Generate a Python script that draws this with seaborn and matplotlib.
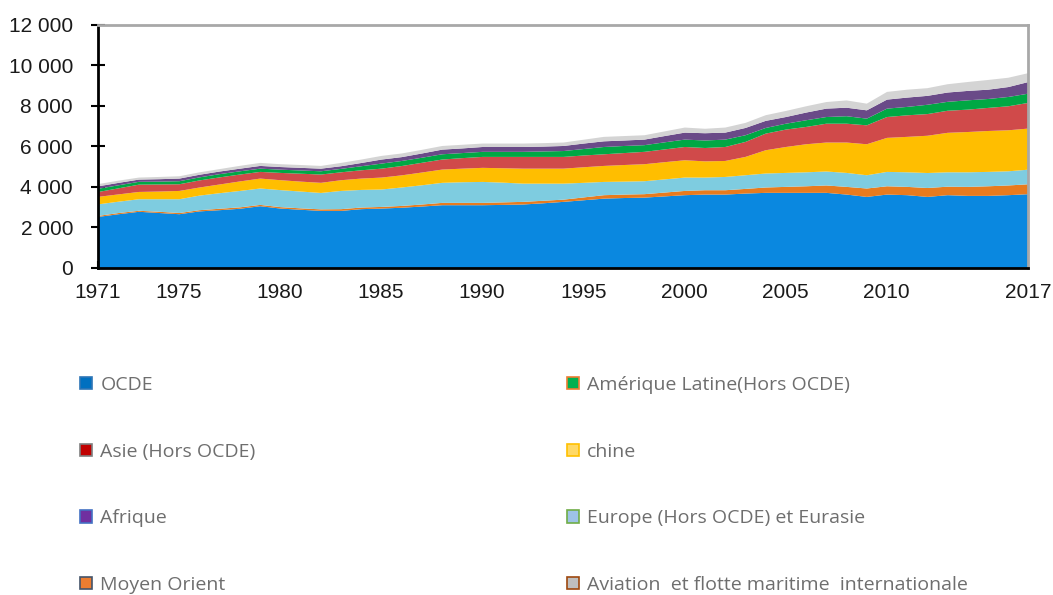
import numpy as np
import pandas as pd
import seaborn as sns
import matplotlib.pyplot as plt
from matplotlib.patches import Patch
from matplotlib.ticker import FuncFormatter, MultipleLocator

years = list(range(1971, 2018))

ocde = [2550, 2680, 2800, 2740, 2680, 2820, 2880, 2950, 3075, 2960,
        2900, 2845, 2845, 2930, 2960, 3000, 3060, 3125, 3125, 3125,
        3140, 3160, 3220, 3290, 3370, 3450, 3480, 3500, 3560, 3620,
        3650, 3650, 3700, 3735, 3735, 3735, 3735, 3650, 3535, 3650,
        3620, 3535, 3620, 3585, 3585, 3620, 3670]
moyen_orient = [50, 60, 50, 60, 60, 60, 70, 70, 65, 70,
                70, 75, 85, 80, 80, 90, 100, 115, 115, 115,
                125, 130, 125, 110, 140, 170, 170, 170, 190, 210,
                215, 215, 230, 265, 295, 325, 365, 380, 415, 410,
                410, 440, 420, 445, 475, 480, 490]
europe_eurasie = [570, 560, 570, 620, 680, 720, 770, 810, 810, 840,
                  830, 810, 900, 870, 860, 910, 950, 990, 1020, 1035,
                  975, 900, 845, 790, 720, 655, 640, 640, 650, 660,
                  625, 655, 675, 690, 690, 690, 690, 690, 655, 710,
                  720, 740, 710, 720, 710, 700, 720]
chine = [370, 360, 360, 380, 410, 400, 430, 470, 490, 490,
         490, 500, 530, 560, 590, 600, 630, 655, 670, 695,
         710, 740, 740, 740, 770, 790, 820, 840, 850, 855,
         800, 790, 905, 1150, 1280, 1385, 1430, 1500, 1530, 1680,
         1750, 1840, 1950, 1990, 2020, 2025, 2030]
asie = [240, 300, 360, 350, 330, 350, 350, 340, 330, 360,
        390, 410, 390, 410, 440, 460, 480, 495, 520, 540,
        560, 580, 580, 580, 580, 575, 590, 610, 630, 655,
        660, 690, 740, 820, 860, 855, 930, 930, 935, 1030,
        1065, 1070, 1090, 1105, 1140, 1185, 1270]
amerique_latine = [160, 150, 140, 140, 150, 150, 160, 160, 160, 160,
                   160, 160, 170, 200, 250, 250, 250, 260, 250, 250,
                   250, 250, 270, 290, 320, 360, 350, 330, 350, 365,
                   370, 365, 330, 280, 290, 330, 330, 370, 330, 415,
                   415, 460, 440, 460, 440, 460, 455]
afrique = [120, 120, 110, 120, 130, 130, 130, 130, 135, 130,
           130, 130, 130, 160, 200, 190, 210, 230, 230, 240,
           240, 240, 240, 250, 270, 280, 270, 275, 310, 345,
           360, 345, 360, 350, 330, 380, 415, 420, 410, 445,
           460, 440, 460, 465, 460, 490, 575]
aviation = [110, 110, 100, 110, 115, 120, 120, 140, 150, 140,
            140, 135, 165, 170, 180, 180, 180, 180, 180, 170,
            170, 170, 170, 170, 190, 220, 220, 215, 230, 250,
            220, 250, 250, 280, 300, 310, 325, 360, 330, 380,
            390, 380, 410, 440, 480, 460, 440]

df = pd.DataFrame({
    "OCDE": ocde,
    "Moyen Orient": moyen_orient,
    "Europe (Hors OCDE) et Eurasie": europe_eurasie,
    "chine": chine,
    "Asie (Hors OCDE)": asie,
    "Amérique Latine(Hors OCDE)": amerique_latine,
    "Afrique": afrique,
    "Aviation  et flotte maritime  internationale": aviation,
}, index=years)

area_colors = ["#0A88E0", "#E87B1E", "#7ECCE0", "#FFBE00",
               "#D04A4A", "#00A844", "#6A4A88", "#D4D4D4"]

sns.set_theme(style="white")
plt.rcParams["font.family"] = ["Liberation Sans", "DejaVu Sans"]

fig = plt.figure(figsize=(10.53, 5.95), dpi=100)
ax = fig.add_axes([0.0931, 0.5496, 0.8832, 0.4084])

ax.stackplot(df.index, [df[c].values for c in df.columns],
             colors=area_colors, linewidth=0)

ax.set_xlim(1971, 2017)
ax.set_ylim(0, 12000)

# ticks
ax.xaxis.set_major_locator(MultipleLocator(1))
shown = {1971, 1975, 1980, 1985, 1990, 1995, 2000, 2005, 2010, 2017}
ax.xaxis.set_major_formatter(FuncFormatter(
    lambda v, p: str(int(round(v))) if int(round(v)) in shown else ""))
ax.yaxis.set_major_locator(MultipleLocator(2000))
ax.yaxis.set_major_formatter(FuncFormatter(
    lambda v, p: f"{int(v):,}".replace(",", " ")))

ax.tick_params(axis="x", direction="in", length=5, width=1.5, color="black",
               labelsize=15, labelcolor="#1a1a1a", pad=11, bottom=True)
ax.tick_params(axis="y", direction="inout", length=10, width=1.5, color="black",
               labelsize=15, labelcolor="#1a1a1a", pad=13, left=True)

for s in ["left", "bottom"]:
    ax.spines[s].set_color("black")
    ax.spines[s].set_linewidth(2)
for s in ["top", "right"]:
    ax.spines[s].set_color("#A8A8A8")
    ax.spines[s].set_linewidth(2)
ax.grid(False)

# legend (separate swatch colours like in the source)
left_items = [("OCDE", "#0070C0", "#2E75B6"),
              ("Asie (Hors OCDE)", "#C00000", "#7F7F7F"),
              ("Afrique", "#7030A0", "#4472C4"),
              ("Moyen Orient", "#ED7D31", "#44546A")]
right_items = [("Amérique Latine(Hors OCDE)", "#00B050", "#ED7D31"),
               ("chine", "#FFD966", "#FFC000"),
               ("Europe (Hors OCDE) et Eurasie", "#9DC3E6", "#70AD47"),
               ("Aviation  et flotte maritime  internationale", "#BFBFBF", "#9E480E")]

for items, xpos in [(left_items, 0.076), (right_items, 0.538)]:
    handles = [Patch(facecolor=f, edgecolor=e, linewidth=1.2, label=l)
               for l, f, e in items]
    fig.legend(handles=handles, loc="upper left", bbox_to_anchor=(xpos, 0.368),
               frameon=False, ncol=1, borderpad=0, borderaxespad=0,
               handlelength=0.62, handleheight=0.62, handletextpad=0.42,
               labelspacing=2.5, prop={"family": "Open Sans", "size": 14},
               labelcolor="#6E6E6E")

fig.savefig("out.png", dpi=100)
